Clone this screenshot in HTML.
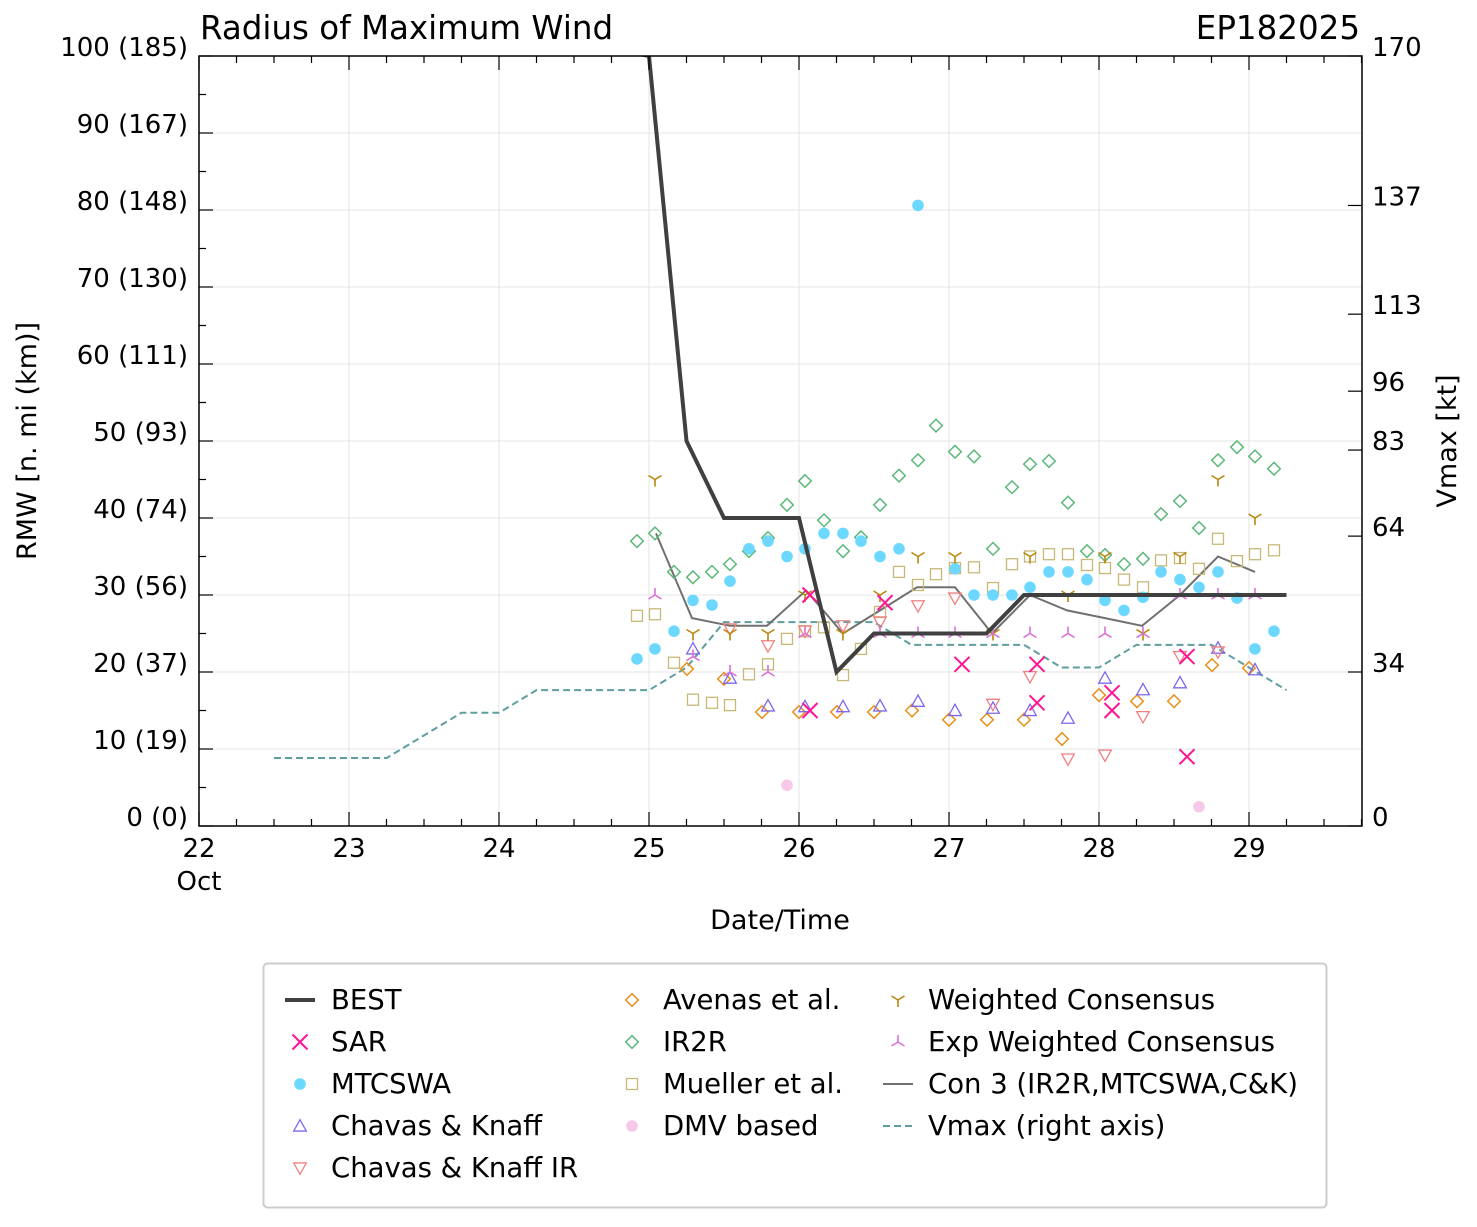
<!DOCTYPE html>
<html><head><meta charset="utf-8"><style>
body{margin:0;background:#fff;}
svg text{font-family:"DejaVu Sans","Liberation Sans",sans-serif;}
</style></head><body>
<svg id="chart" width="1477" height="1222" xmlns="http://www.w3.org/2000/svg">
<defs><clipPath id="pc"><rect x="199" y="56" width="1163" height="770"/></clipPath></defs>
<rect width="1477" height="1222" fill="#fff"/>
<g id="grid"></g>
<g id="series" clip-path="url(#pc)"></g>
<g id="axes"></g>
<text x="200" y="39" font-size="32.5">Radius of Maximum Wind</text>
<text x="1360" y="39" font-size="32.5" text-anchor="end">EP182025</text>
<text x="780" y="929" font-size="27" text-anchor="middle">Date/Time</text>
<text transform="translate(36,441) rotate(-90)" font-size="27" text-anchor="middle">RMW [n. mi (km)]</text>
<text transform="translate(1456,441) rotate(-90)" font-size="27" text-anchor="middle">Vmax [kt]</text>
<g id="legend"></g>
</svg>
<script>
// ---- data ----
const bestT=[22.5,25.0,25.25,25.5,26.0,26.25,26.5,27.25,27.5,29.25];
const bestV=[110,100,50,40,40,20,25,25,30,30];
const vmaxT=[22.5,23.25,23.75,24.0,24.25,25.0,25.25,25.5,26.0,26.25,26.5,26.75,27.5,27.75,28.0,28.25,28.75,29.0,29.25];
const vmaxV=[15,15,25,25,30,30,35,45,45,45,45,40,40,35,35,40,40,35,30];
const con3X=[656,692,730,767,806,843,880,917,955,992,1030,1067,1105,1142,1180,1218,1255];
const con3V=[38,27,26,26,30.6,25,28,31,31,25,30,28,27,26,30,35,33];
const mtX=[637,655,674,693,712,730,749,768,787,805,824,843,861,880,899,918,955,974,993,1012,1030,1049,1068,1087,1105,1124,1143,1161,1180,1199,1218,1237,1255,1274];
const mtV=[21.7,23,25.3,29.3,28.7,31.8,36,37,35,36,38,38,37,35,36,80.6,33.4,30,30,30,31,33,33,32,29.3,28,29.7,33,32,31,33,29.6,23,25.3];
const irX=[637,655,674,693,712,730,749,768,787,805,824,843,861,880,899,918,936,955,974,993,1012,1030,1049,1068,1087,1105,1124,1143,1161,1180,1199,1218,1237,1255,1274];
const irV=[37,38,33,32.3,33,34,35.7,37.4,41.7,44.8,39.7,35.7,37.5,41.7,45.5,47.5,52,48.6,48,36,44,47,47.4,42,35.7,35.2,34,34.7,40.5,42.2,38.7,47.5,49.2,48,46.4];
const muX=[637,655,674,693,712,730,749,768,787,805,824,843,861,880,899,918,936,955,974,993,1012,1030,1049,1068,1087,1105,1124,1143,1161,1180,1199,1218,1237,1255,1274];
const muV=[27.3,27.5,21.2,16.4,16,15.7,19.7,21,24.3,25.3,25.8,19.6,23,27.8,33,31.3,32.7,33.5,33.6,30.9,34,35,35.3,35.3,33.9,33.5,32,31,34.5,34.8,33.4,37.3,34.4,35.3,35.8];
const avX=[687,724,762,799,837,874,912,949,987,1024,1062,1099,1137,1174,1212,1249];
const avV=[20.4,19.1,14.8,14.8,14.8,14.8,15,13.8,13.8,13.8,11.3,17,16.2,16.2,20.9,20.5];
const sarX=[810,810,885,962,1037,1037,1112,1112,1187,1187];
const sarV=[30,15,29,21,21,16,17.3,15,22,9];
const ckX=[693,730,768,805,843,880,918,955,993,1030,1068,1105,1143,1180,1218,1255];
const ckV=[23,19.2,15.6,15.5,15.5,15.6,16.2,15,15.3,15,14,19.2,17.7,18.6,23.1,20.3];
const ckirX=[730,768,805,843,880,918,955,993,1030,1068,1105,1143,1180,1218];
const ckirV=[25.6,23.4,25.3,26,26.5,28.6,29.6,15.8,19.4,8.7,9.2,14.2,22,22.6];
const wcX=[655,693,730,768,805,843,880,918,955,993,1030,1068,1105,1143,1180,1218,1255];
const wcV=[45,25,25,25,30,25,30,35,35,25,35,30,35,25,35,45,40];
const ewX=[655,693,730,768,805,880,918,955,993,1030,1068,1105,1143,1180,1218,1255];
const ewV=[30,22,20,20,25,25,25,25,25,25,25,25,25,30,30,30];
const dmvX=[787,1199];
const dmvV=[5.3,2.5];
const xTicks=[22,23,24,25,26,27,28,29];
const yTicks=[0,10,20,30,40,50,60,70,80,90,100];
const yTickLabels=["0 (0)","10 (19)","20 (37)","30 (56)","40 (74)","50 (93)","60 (111)","70 (130)","80 (148)","90 (167)","100 (185)"];
const rTicks=[0,34,64,83,96,113,137,170];

// ---- scales ----
const X0=199,X1=1362,Y0=826,Y1=56;
const xs=t=>X0+(t-22)*150;
const pxToDay=p=>22+(p-X0)/150;
const ys=v=>Y0-v*7.7;
const yr=v=>Y0-v*(770/170);
const NS="http://www.w3.org/2000/svg";
function mk(tag,attrs,parent){const e=document.createElementNS(NS,tag);for(const k in attrs)e.setAttribute(k,attrs[k]);parent.appendChild(e);return e;}
const grid=document.getElementById('grid'),ser=document.getElementById('series'),ax=document.getElementById('axes'),leg=document.getElementById('legend');

xTicks.forEach(t=>{const l=mk('line',{x1:xs(t),x2:xs(t),y1:Y1,y2:Y0,stroke:'#e4e4e4','stroke-width':1},grid);

});
yTicks.forEach(v=>{const l=mk('line',{x1:X0,x2:X1,y1:ys(v),y2:ys(v),stroke:'#e4e4e4','stroke-width':1},grid);

});

function marker(type,cx,cy,color,g){
  const s=6.3;let e;
  if(type==='circle')e=mk('circle',{cx,cy,r:5.8,fill:color},g);
  else if(type==='x')e=mk('path',{d:`M${cx-7.5} ${cy-7.5}L${cx+7.5} ${cy+7.5}M${cx-7.5} ${cy+7.5}L${cx+7.5} ${cy-7.5}`,stroke:color,'stroke-width':2,fill:'none'},g);
  else if(type==='tup')e=mk('path',{d:`M${cx} ${cy-s}L${cx+s} ${cy+s*0.8}L${cx-s} ${cy+s*0.8}Z`,stroke:color,'stroke-width':1.3,fill:'none'},g);
  else if(type==='tdown')e=mk('path',{d:`M${cx} ${cy+s}L${cx+s} ${cy-s*0.8}L${cx-s} ${cy-s*0.8}Z`,stroke:color,'stroke-width':1.3,fill:'none'},g);
  else if(type==='diamond')e=mk('path',{d:`M${cx} ${cy-s}L${cx+s} ${cy}L${cx} ${cy+s}L${cx-s} ${cy}Z`,stroke:color,'stroke-width':1.5,fill:'none'},g);
  else if(type==='square')e=mk('rect',{x:cx-5.5,y:cy-5.5,width:11,height:11,stroke:color,'stroke-width':1.3,fill:'none'},g);
  else if(type==='y1')e=mk('path',{d:`M${cx} ${cy}L${cx} ${cy+7}M${cx} ${cy}L${cx-6.5} ${cy-4}M${cx} ${cy}L${cx+6.5} ${cy-4}`,stroke:color,'stroke-width':1.6,fill:'none'},g);
  else if(type==='y2')e=mk('path',{d:`M${cx} ${cy}L${cx} ${cy-7}M${cx} ${cy}L${cx-6.5} ${cy+4}M${cx} ${cy}L${cx+6.5} ${cy+4}`,stroke:color,'stroke-width':1.6,fill:'none'},g);
  return e;
}
function scatter(xp,vals,type,color,name){
  const g=mk('g',{},ser);
  
  
  xp.forEach((p,i)=>{const e=marker(type,xs(pxToDay(p)),ys(vals[i]),color,g);
    
    });
}
function line(pts,color,w,dash,name){
  const e=mk('polyline',{points:pts.map(p=>p.join(',')).join(' '),stroke:color,'stroke-width':w,fill:'none','stroke-dasharray':dash||'none'},ser);
  
  
}
line(vmaxT.map((t,i)=>[xs(t),yr(vmaxV[i])]),'#5f9ea0',2,'7,4','vmax-line');
line(con3X.map((p,i)=>[xs(pxToDay(p)),ys(con3V[i])]),'#707070',2,null,'con3-line');
scatter(muX,muV,'square','#c8b878','mueller');
scatter(irX,irV,'diamond','#5cb87a','ir2r');
scatter(mtX,mtV,'circle','#6dd8ff','mtcswa');
scatter(avX,avV,'diamond','#e8901a','avenas');
scatter(ckX,ckV,'tup','#7b68ee','chavas-knaff');
scatter(ckirX,ckirV,'tdown','#f08080','chavas-knaff-ir');
scatter(wcX,wcV,'y1','#b8860b','weighted-consensus');
scatter(ewX,ewV,'y2','#da70d6','exp-weighted-consensus');
scatter(dmvX,dmvV,'circle','#f8c8e8','dmv');
scatter(sarX,sarV,'x','#ff1493','sar');
line(bestT.map((t,i)=>[xs(t),ys(bestV[i])]),'#404040',4,null,'best-track-line');

mk('rect',{x:X0,y:Y1,width:X1-X0,height:Y0-Y1,fill:'none',stroke:'#000','stroke-width':1.5},ax);
for(let t=22;t<=29.75;t+=0.25){const major=Math.abs(t-Math.round(t))<1e-6;const L=major?14:7;
  mk('line',{x1:xs(t),x2:xs(t),y1:Y0,y2:Y0-L,stroke:'#000','stroke-width':1.2},ax);
  mk('line',{x1:xs(t),x2:xs(t),y1:Y1,y2:Y1+L,stroke:'#000','stroke-width':1.2},ax);}
for(let v=0;v<=100;v+=5){const L=v%10===0?14:7;mk('line',{x1:X0,x2:X0+L,y1:ys(v),y2:ys(v),stroke:'#000','stroke-width':1.2},ax);}
xTicks.forEach(t=>{const e=mk('text',{x:xs(t),y:857,'font-size':26,'text-anchor':'middle'},ax);e.textContent=t;
  
  });
const oct=mk('text',{x:xs(22),y:890,'font-size':26,'text-anchor':'middle'},ax);oct.textContent='Oct';


yTicks.forEach((v,i)=>{const e=mk('text',{x:188,y:ys(v)+0,'font-size':26,'text-anchor':'end'},ax);e.textContent=yTickLabels[i];
  
  });
rTicks.forEach(v=>{mk('line',{x1:X1,x2:X1-14,y1:yr(v),y2:yr(v),stroke:'#000','stroke-width':1.2},ax);
  const e=mk('text',{x:1372,y:yr(v)+0,'font-size':26},ax);e.textContent=v;
  
  });

mk('rect',{x:263.5,y:963.5,width:1063,height:244,rx:4,fill:'#fff',stroke:'#ccc','stroke-width':2},leg);
const legItems=[
 [300,331,1000,'line','#404040','BEST'],[300,331,1042,'x','#ff1493','SAR'],[300,331,1084,'circle','#6dd8ff','MTCSWA'],
 [300,331,1126,'tup','#7b68ee','Chavas & Knaff'],[300,331,1168,'tdown','#f08080','Chavas & Knaff IR'],
 [632,663,1000,'diamond','#e8901a','Avenas et al.'],[632,663,1042,'diamond','#5cb87a','IR2R'],[632,663,1084,'square','#c8b878','Mueller et al.'],
 [632,663,1126,'circle','#f8c8e8','DMV based'],
 [898,928,1000,'y1','#b8860b','Weighted Consensus'],[898,928,1042,'y2','#da70d6','Exp Weighted Consensus'],
 [898,928,1084,'gline','#707070','Con 3 (IR2R,MTCSWA,C&K)'],[898,928,1126,'dline','#5f9ea0','Vmax (right axis)']];
legItems.forEach(([mx,tx,y,type,c,label])=>{
  const g=mk('g',{},leg);
  
  
  if(type==='line')mk('line',{x1:mx-15,x2:mx+15,y1:y,y2:y,stroke:c,'stroke-width':4},g);
  else if(type==='gline')mk('line',{x1:mx-15,x2:mx+15,y1:y,y2:y,stroke:c,'stroke-width':2},g);
  else if(type==='dline')mk('line',{x1:mx-15,x2:mx+15,y1:y,y2:y,stroke:c,'stroke-width':2,'stroke-dasharray':'7,4'},g);
  else marker(type,mx,y,c,g);
  const t=mk('text',{x:tx,y:y+9,'font-size':27.5},g);t.textContent=label;
});
</script>
</body></html>
